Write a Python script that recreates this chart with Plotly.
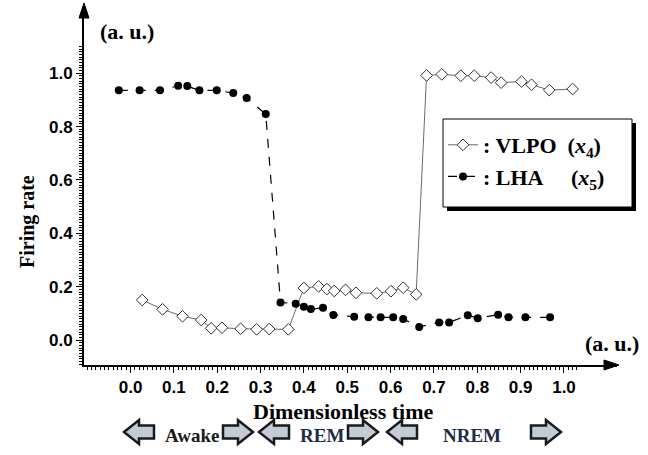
import numpy as np
import plotly.graph_objects as go

# ---------------- data ----------------
vlpo_t = [0.027, 0.074, 0.120, 0.163, 0.186, 0.211, 0.254, 0.291, 0.320, 0.364,
          0.400, 0.434, 0.453, 0.470, 0.496, 0.520, 0.568, 0.601, 0.629, 0.659,
          0.683, 0.718, 0.762, 0.793, 0.832, 0.855, 0.902, 0.925, 0.966, 1.020]
vlpo_v = [0.150, 0.115, 0.089, 0.075, 0.044, 0.046, 0.042, 0.040, 0.041, 0.040,
          0.195, 0.201, 0.191, 0.184, 0.188, 0.177, 0.175, 0.183, 0.196, 0.171,
          0.992, 0.996, 0.991, 0.991, 0.984, 0.965, 0.969, 0.957, 0.937, 0.941]

lha_t = [-0.027, 0.021, 0.068, 0.110, 0.131, 0.159, 0.199, 0.237, 0.268, 0.312,
         0.346, 0.381, 0.400, 0.416, 0.444, 0.468, 0.516, 0.549, 0.577, 0.606,
         0.629, 0.666, 0.712, 0.735, 0.778, 0.801, 0.848, 0.872, 0.911, 0.968]
lha_v = [0.936, 0.936, 0.936, 0.953, 0.952, 0.936, 0.936, 0.926, 0.907, 0.847,
         0.141, 0.136, 0.125, 0.116, 0.121, 0.094, 0.087, 0.085, 0.085, 0.085,
         0.079, 0.049, 0.066, 0.066, 0.093, 0.082, 0.095, 0.085, 0.085, 0.085]

x_ticks = [0.0, 0.1, 0.2, 0.3, 0.4, 0.5, 0.6, 0.7, 0.8, 0.9, 1.0]
y_ticks = [0.0, 0.2, 0.4, 0.6, 0.8, 1.0]
stage_labels = ["Awake", "REM", "NREM"]

# ---------------- layout geometry ----------------
W, H = 648, 455
L, R, T, B = 84, 31, 7, 90
PW, PH = W - L - R, H - T - B
X_RANGE = [-0.1073, 1.1223]
Y_RANGE = [-0.0937, 1.2486]


def px(x):
    return (x - L) / PW


def py(y):
    return 1 - (y - T) / PH


SERIF = "Liberation Serif, Times New Roman, serif"
SANS = "Liberation Sans, Arial, sans-serif"

fig = go.Figure()

fig.add_trace(go.Scatter(
    x=vlpo_t, y=vlpo_v, mode="lines+markers",
    name="<b>: VLPO\u00a0\u00a0(<i>x</i><sub>4</sub>)</b>",
    line=dict(color="#6a6a6a", width=1),
    marker=dict(symbol="diamond", size=9, color="white",
                line=dict(color="#333333", width=1)),
))
fig.add_trace(go.Scatter(
    x=lha_t, y=lha_v, mode="lines+markers",
    name="<b>: LHA\u00a0\u00a0\u00a0\u00a0\u00a0(<i>x</i><sub>5</sub>)</b>",
    line=dict(color="black", width=1.2, dash="dash"),
    marker=dict(symbol="circle", size=8, color="black"),
))


def poly(pts, fill, lc, lw):
    path = "M " + " L ".join(f"{px(a):.5f},{py(b):.5f}" for a, b in pts) + " Z"
    return dict(type="path", xref="paper", yref="paper", path=path,
                fillcolor=fill, line=dict(color=lc, width=lw), layer="above")


shapes = []
# axis arrow heads
shapes.append(poly([(L, 3), (L - 5, 18), (L + 5, 18)], "black", "black", 1))
shapes.append(poly([(W - R + 2, H - B), (W - R - 13, H - B - 5), (W - R - 13, H - B + 5)],
                   "black", "black", 1))
# legend box with shadow
shapes.append(dict(type="rect", xref="paper", yref="paper",
                   x0=px(447), x1=px(636), y0=py(211), y1=py(123),
                   fillcolor="black", line=dict(width=0), layer="above"))
shapes.append(dict(type="rect", xref="paper", yref="paper",
                   x0=px(443), x1=px(632), y0=py(207), y1=py(119),
                   fillcolor="white", line=dict(color="black", width=1), layer="above"))


def block_arrow(x0, yc, direction):
    w, hh, bh, head = 30, 12, 6.5, 15
    if direction == "left":
        pts = [(x0, yc), (x0 + head, yc - hh), (x0 + head, yc - bh), (x0 + w, yc - bh),
               (x0 + w, yc + bh), (x0 + head, yc + bh), (x0 + head, yc + hh)]
    else:
        pts = [(x0 + w, yc), (x0 + w - head, yc - hh), (x0 + w - head, yc - bh), (x0, yc - bh),
               (x0, yc + bh), (x0 + w - head, yc + bh), (x0 + w - head, yc + hh)]
    return poly(pts, "#c3ccd5", "#1a1a1a", 2.5)


arrow_specs = [(124, "left"), (223, "right"), (259, "left"),
               (348, "right"), (387, "left"), (531, "right")]
for x0, d in arrow_specs:
    shapes.append(block_arrow(x0, 432, d))


def label(x, y, text, size, color="black", angle=0):
    return dict(x=px(x), y=py(y), xref="paper", yref="paper", text=text,
                showarrow=False, xanchor="center", yanchor="middle",
                textangle=angle, font=dict(family=SERIF, size=size, color=color))


annotations = [
    label(127, 32, "<b>(a. u.)</b>", 22),
    label(612, 343, "<b>(a. u.)</b>", 22),
    label(343, 411, "<b>Dimensionless time</b>", 22),
    label(27, 222, "<b>Firing rate</b>", 20, angle=-90),
]
stage_x = [192, 322, 472]
stage_col = ["#1a1a1a", "#1f2b48", "#1f2b48"]
for lab, sx, col in zip(stage_labels, stage_x, stage_col):
    annotations.append(label(sx, 435, f"<b>{lab}</b>", 19, col))

x_minor = [round(v, 2) for v in np.arange(-0.10, 1.035, 0.01)]
y_minor = [round(v, 2) for v in np.arange(-0.09, 1.105, 0.01)]

fig.update_layout(
    width=W, height=H,
    margin=dict(l=L, r=R, t=T, b=B, autoexpand=False),
    paper_bgcolor="white", plot_bgcolor="white",
    showlegend=True,
    legend=dict(x=px(443), y=py(124), xanchor="left", yanchor="top",
                bgcolor="rgba(0,0,0,0)", borderwidth=0,
                font=dict(family=SERIF, size=22, color="black"),
                itemwidth=30, tracegroupgap=0),
    shapes=shapes,
    annotations=annotations,
    xaxis=dict(range=X_RANGE, showline=True, linecolor="black", linewidth=2,
               showgrid=False, zeroline=False, automargin=False,
               tickmode="array", tickvals=x_ticks,
               ticktext=[f"{v:.1f}" for v in x_ticks],
               ticks="outside", ticklen=6, tickwidth=1, tickcolor="black",
               tickfont=dict(family=SANS, size=17, color="black", weight="bold"),
               minor=dict(tickmode="array", tickvals=x_minor, ticks="outside",
                          ticklen=3, tickwidth=1, tickcolor="black")),
    yaxis=dict(range=Y_RANGE, showline=True, linecolor="black", linewidth=2,
               showgrid=False, zeroline=False, automargin=False,
               tickmode="array", tickvals=y_ticks,
               ticktext=[f"{v:.1f}" for v in y_ticks],
               ticks="outside", ticklen=6, tickwidth=1, tickcolor="black",
               tickfont=dict(family=SANS, size=17, color="black", weight="bold"),
               minor=dict(tickmode="array", tickvals=y_minor, ticks="outside",
                          ticklen=3, tickwidth=1, tickcolor="black")),
)

fig.write_html("out.html", config={"displayModeBar": False},
               post_script="document.body.style.margin='0';document.body.style.padding='0';")
